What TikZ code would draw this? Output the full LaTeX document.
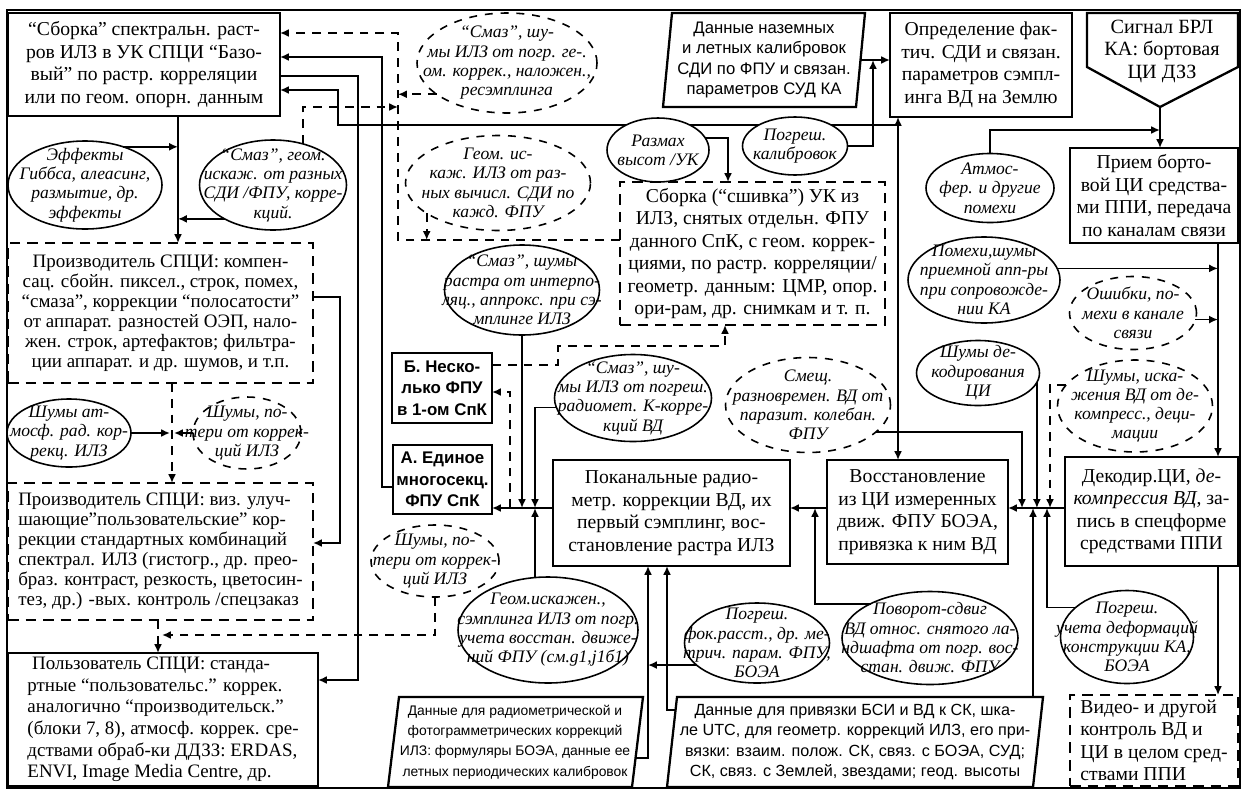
\documentclass[tikz,border=0pt]{standalone}
\usepackage{fontspec}
\setmainfont{Liberation Serif}
\setsansfont{Liberation Sans}
\usetikzlibrary{arrows.meta,shapes.geometric}
\begin{document}
\begin{tikzpicture}[x=0.02cm,y=-0.02cm,
  every node/.style={inner sep=0pt, outer sep=0pt},
  sz/.style 2 args={minimum width=#1*0.02cm, minimum height=#2*0.02cm},
  bx/.style={draw, line width=1.3pt, fill=white, align=center, font=\fontsize{11.2}{12.8}\selectfont},
  dbx/.style={bx, dash pattern=on 6pt off 4pt},
  sbx/.style={draw, line width=1.3pt, fill=white, align=center, font=\sffamily\bfseries\fontsize{9.6}{12.3}\selectfont},
  el/.style={draw, ellipse, line width=0.9pt, fill=white},
  del/.style={el, dash pattern=on 4.5pt off 4.5pt},
  et/.style={align=center, font=\itshape\fontsize{10}{11}\selectfont},
  st/.style={align=center, font=\sffamily\fontsize{9}{11.5}\selectfont},
  pg/.style={line width=1.3pt, fill=white},
  ln/.style={line width=1pt},
  ar/.style={ln, -{Latex[length=5pt,width=4.5pt]}},
  dar/.style={ar, dash pattern=on 5pt off 4pt},
  dar2/.style={ln, {Latex[length=5pt,width=4.5pt]}-{Latex[length=5pt,width=4.5pt]}},
]
\fill[white] (0,0) rectangle (1243,791);
\useasboundingbox (0,0) rectangle (1243,791);
\draw[line width=0.8pt] (7,10) rectangle (1240,788);

% helper coordinates
\foreach \y in {33,57,76,90,107,125,130,240,297,346,365,392,487,508,543,635,680}{\coordinate (h\y) at (0,\y);}
\foreach \x in {158,162,170,172,174,178,338,340,358,382,398,510,535,558,648,667,725,728,815,873,898,1022,1037,1047,1050,1218}{\coordinate (v\x) at (\x,0);}

% boxes
\node[bx, sz={272}{103}] (sb) at (144,64.5) {“Сборка” спектральн. раст-\\ров ИЛЗ в УК СПЦИ “Базо-\\вый” по растр. корреляции\\или по геом. опорн. данным};
\node[dbx, sz={305}{140}, font=\fontsize{10.8}{11.4}\selectfont] (p1) at (160.5,313) {Производитель СПЦИ: компен-\\сац. сбойн. пиксел., строк, помех,\\“смаза”, коррекции “полосатости”\\от аппарат. разностей ОЭП, нало-\\жен. строк, артефактов; фильтра-\\ции аппарат. и др. шумов, и т.п.};
\node[dbx, sz={305}{137}, align=left, font=\fontsize{10.8}{11.4}\selectfont] (p2) at (160.5,551.5) {Производитель СПЦИ: виз. улуч-\\шающие”пользовательские” кор-\\рекции стандартных комбинаций\\спектрал. ИЛЗ (гистогр., др. прео-\\браз. контраст, резкость, цветосин-\\тез, др.) -вых. контроль /спецзаказ};
\node[bx, sz={310}{133}, align=left, font=\fontsize{10.8}{12.3}\selectfont] (us) at (163,719.5) {\ Пользователь СПЦИ: станда-\\ртные “пользовательс.” коррек.\\аналогично “производительск.”\\(блоки 7, 8), атмосф. коррек. сре-\\дствами обраб-ки ДДЗЗ: ERDAS,\\ENVI, Image Media Centre, др.};
\node[sbx, sz={100}{70}] (B) at (442,388) {Б. Неско-\\лько ФПУ\\в 1-ом СпК};
\node[sbx, sz={99}{69}] (A) at (442.5,479.5) {А. Единое\\многосекц.\\ФПУ СпК};
\node[bx, sz={237}{106}] (pk) at (671.5,513) {Поканальные радио-\\метр. коррекции ВД, их\\первый сэмплинг, вос-\\становление растра ИЛЗ};
\node[bx, sz={181}{104}] (vs) at (917.5,512) {Восстановление\\из ЦИ измеренных\\движ. ФПУ БОЭА,\\привязка к ним ВД};
\node[bx, sz={173}{109}] (dk) at (1151.5,511.5) {Декодир.ЦИ, \textit{де-}\\\textit{компрессия ВД}, за-\\пись в спецформе\\средствами ППИ};
\node[dbx, sz={168}{91}, align=left] (vc) at (1154,740.5) {Видео- и другой\\контроль ВД и\\ЦИ в целом сред-\\ствами ППИ};
\node[bx, sz={168}{95}] (pr) at (1154,195.5) {Прием борто-\\вой ЦИ средства-\\ми ППИ, передача\\по каналам связи};
\node[bx, sz={182}{104}] (op) at (981,65) {Определение фак-\\тич. СДИ и связан.\\параметров сэмпл-\\инга ВД на Землю};
\node[dbx, sz={265}{143}] (ss) at (752.5,253.5) {Сборка (“сшивка”) УК из\\ИЛЗ, снятых отдельн. ФПУ\\данного СпК, с геом. коррек-\\циями, по растр. корреляции/\\геометр. данным: ЦМР, опор.\\ори-рам, др. снимкам и т. п.};

% signal pentagon
\draw[pg] (1087,13) -- (1238,13) -- (1238,67) -- (1160,107) -- (1087,67) -- cycle;
\node[align=center, font=\fontsize{11.5}{12.8}\selectfont] (sig) at (1162,51) {Сигнал БРЛ\\КА: бортовая\\ЦИ ДЗЗ};
\coordinate (sigtip) at (1160,107);

% parallelograms
\draw[pg] (663,107) -- (672,13) -- (865,13) -- (856,107) -- cycle;
\node[st, font=\sffamily\fontsize{9.5}{11.4}\selectfont] (dn) at (764,60) {Данные наземных\\и летных калибровок\\СДИ по ФПУ и связан.\\параметров СУД КА};
\coordinate (dnE) at (860.5,60);
\draw[pg] (388,787) -- (399,697) -- (643,697) -- (632,787) -- cycle;
\node[st, font=\sffamily\fontsize{7.9}{11.5}\selectfont] (dr) at (515,742) {Данные для радиометрической и\\фотограмметрических коррекций\\ИЛЗ: формуляры БОЭА, данные ее\\летных периодических калибровок};
\coordinate (drE) at (636,758);
\draw[pg] (667,787) -- (677,697) -- (1043,697) -- (1033,787) -- cycle;
\node[st, font=\sffamily\fontsize{9.2}{11.5}\selectfont] (dp) at (855,742) {Данные для привязки БСИ и ВД к СК, шка-\\ле UTC, для геометр. коррекций ИЛЗ, его при-\\вязки: взаим. полож. СК, связ. с БОЭА, СУД;\\СК, связ. с Землей, звездами; геод. высоты};
\coordinate (dpW) at (675.6,710);
\coordinate (dpT) at (1033,697);

% line behind top ellipses
\draw[ar] (v898 |- h125) -- (v338 |- h125) |- (sb.east |- h90);

% ellipses
\node[del, sz={180}{100}] (etop) at (507,63) {};
\node[et] (etop-t) at (etop) {“Смаз”, шу-\\мы ИЛЗ от погр. ге-.\\ом. коррек., наложен.,\\ресэмплинга};
\node[del, sz={185}{95}] (egeo) at (498,183) {};
\node[et] (egeo-t) at (egeo) {Геом. ис-\\каж. ИЛЗ от раз-\\ных вычисл. СДИ по\\кажд. ФПУ};
\node[el, sz={154}{88}] (egib) at (85,185) {};
\node[et] (egib-t) at (egib) {Эффекты\\Гиббса, алеасинг,\\размытие, др.\\эффекты};
\node[el, sz={147}{90}] (esmz) at (273,185) {};
\node[et] (esmz-t) at (esmz) {“Смаз”, геом.\\искаж. от разных\\СДИ /ФПУ, корре-\\кций.};
\node[el, sz={124}{68}] (eatm1) at (69,433) {};
\node[et] (eatm1-t) at (eatm1) {Шумы ат-\\мосф. рад. кор-\\рекц. ИЛЗ};
\node[del, sz={108}{72}] (elos1) at (247,433) {};
\node[et] (elos1-t) at (elos1) {Шумы, по-\\тери от коррек-\\ций ИЛЗ};
\node[del, sz={128}{72}] (elos2) at (435,561) {};
\node[et] (elos2-t) at (elos2) {Шумы, по-\\тери от коррек-\\ций ИЛЗ};
\node[el, sz={155}{90}] (eint) at (522,290) {};
\node[et] (eint-t) at (eint) {“Смаз”, шумы\\растра от интерпо-\\ляц., аппрокс. при сэ-\\мплинге ИЛЗ};
\node[el, sz={157}{87}] (erad) at (633,398) {};
\node[et] (erad-t) at (erad) {“Смаз”, шу-\\мы ИЛЗ от погреш.\\радиомет. К-корре-\\кций ВД};
\node[del, sz={165}{95}] (esm) at (808,405) {};
\node[et] (esm-t) at (esm) {Смещ.\\разновремен. ВД от\\паразит. колебан.\\ФПУ};
\node[el, sz={102}{64}] (eraz) at (658,150) {};
\node[et] (eraz-t) at (eraz) {Размах\\высот /УК};
\node[el, sz={105}{58}] (epk) at (795,146) {};
\node[et] (epk-t) at (epk) {Погреш.\\калибровок};
\node[el, sz={128}{69}] (eatm) at (990,188) {};
\node[et] (eatm-t) at (eatm) {Атмос-\\фер. и другие\\помехи};
\node[el, sz={152}{86}] (epom) at (984,280) {};
\node[et] (epom-t) at (epom) {Помехи,шумы\\приемной апп-ры\\при сопровожде-\\нии КА};
\node[del, sz={127}{73}] (eosh) at (1133,313) {};
\node[et] (eosh-t) at (eosh) {Ошибки, по-\\мехи в канале\\связи};
\node[el, sz={123}{65}] (edec) at (978,373) {};
\node[et] (edec-t) at (edec) {Шумы де-\\кодирования\\ЦИ};
\node[del, sz={155}{92}] (edcm) at (1135,406) {};
\node[et] (edcm-t) at (edcm) {Шумы, иска-\\жения ВД от де-\\компресс., деци-\\мации};
\node[el, sz={180}{106}] (egeo2) at (548,630) {};
\node[et] (egeo2-t) at (egeo2) {Геом.искажен.,\\сэмплинга ИЛЗ от погр.\\учета восстан. движе-\\ний ФПУ (см.g1,j1б1)};
\node[el, sz={145}{80}] (efok) at (757,643) {};
\node[et] (efok-t) at (efok) {Погреш.\\фок.расст., др. ме-\\трич. парам. ФПУ,\\БОЭА};
\node[el, sz={176}{93}] (epov) at (930,638) {};
\node[et] (epov-t) at (epov) {Поворот-сдвиг\\ВД относ. снятого ла-\\ндшафта от погр. вос-\\стан. движ. ФПУ};
\node[el, sz={133}{93}] (edef) at (1127,637) {};
\node[et] (edef-t) at (edef) {Погреш.\\учета деформаций\\конструкции КА,\\БОЭА};

% connectors - left column
\draw[ar] (sb.south -| v178) -- (p1.north -| v178);
\draw[ar] (egib.45) -- (egib.45 -| v178);
\draw[ar] (esmz.215) -- (esmz.215 -| v178);
\draw[dar] (esmz.54) |- (v398 |- h107);
\draw[dar] (ss.west |- h240) -| (v398 |- h33) -- (sb.east |- h33);
\draw[dar] (etop.204) -- (etop.204 -| v398);
\draw[dar] (egeo.203) -- (egeo.203 |- h240);
\draw[ar] (A.west |- h487) -| (v382 |- h57) -- (sb.east |- h57);
\draw[ar] (sb.east |- h76) -| (v358 |- h680) -- (us.east |- h680);
\draw[ar] (p1.east |- h297) -| (v340 |- h543) -- (p2.east |- h543);
\draw[dar] (p1.south -| v172) -- (p2.north -| v172);
\draw[ar] (eatm1.east) -- (eatm1.east -| v170);
\draw[ar] (elos1.west) -- (elos1.west -| v174);
\draw[dar] (elos2.south) |- (v162 |- h635);
\draw[dar] (p2.south -| v158) -- (us.north -| v158);

% top right
\draw[dar2] (op.south -| v898) -- (vs.north -| v898);
\draw[ar] (dnE) -- (dnE -| op.west);
\draw[ar] (epk.east) -| (v873 |- dnE);
\draw[ar] (eraz.14) -| (ss.north -| v728);
\draw[ar] (sigtip) -- (sigtip |- pr.north);
\draw[ar] (eatm.north) |- (sigtip |- h130);
\draw[ar] (pr.south -| v1218) -- (dk.north -| v1218);
\draw[ar] (epom.9) -- (epom.9 -| v1218);
\draw[ar] (eosh.354) -- (eosh.354 -| v1218);
\draw[ar] (dk.south -| v1218) -- (vc.north -| v1218);

% middle row
\draw[ar] (dk.west |- h508) -- (vs.east |- h508);
\draw[ar] (esm.338) -| (v1022 |- h508);
\draw[ar] (edec.-9) -- (edec.-9 |- h508);
\draw[dar] (edcm.163) -| (v1050 |- h508);
\draw[ar] (dpT) -- (dpT |- h508);
\draw[ar] (edef.150) -| (v1047 |- h508);
\draw[ar] (vs.west |- h508) -- (pk.east |- h508);
\draw[ar] (epov.150) -| (v815 |- h508);
\draw[ar] (pk.west |- h508) -- (A.east |- h508);
\draw[ar] (eint.south) -- (eint.south |- h508);
\draw[ar] (erad.187) -| (v535 |- h508);
\draw[ar] (egeo2.north -| v535) -- (v535 |- h508);
\draw[dar] (v510 |- h508) |- (B.east |- h392);
\draw[dar] (B.east |- h365) -- (v558 |- h365) -- (v558 |- h346) -- (v725 |- h346) -- (ss.south -| v725);

% bottom
\draw[ar] (drE) -| (v648 |- pk.south);
\draw[ar] (dpW) -| (v667 |- pk.south);
\draw[ar] (efok.200) -- (efok.200 -| v648);
\end{tikzpicture}
\end{document}
